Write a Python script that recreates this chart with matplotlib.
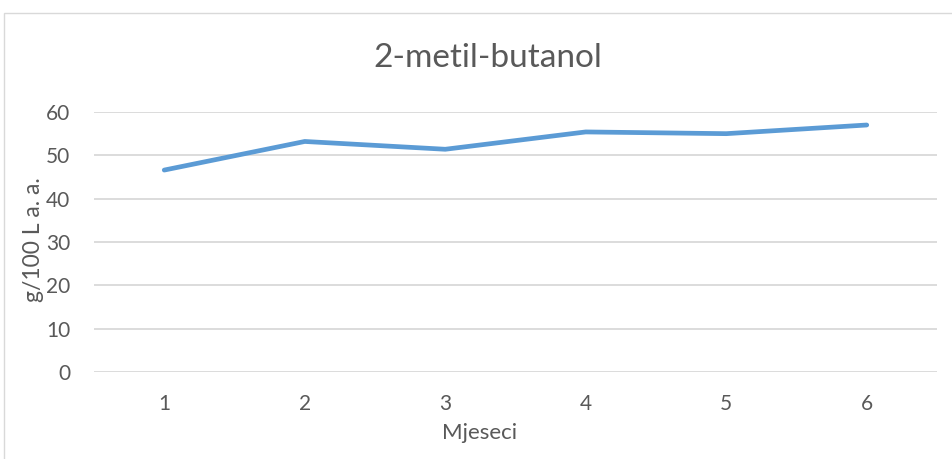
import matplotlib.pyplot as plt
from matplotlib.patches import Rectangle

months = [1, 2, 3, 4, 5, 6]
values = [46.6, 53.2, 51.4, 55.4, 55.0, 57.0]
yticks = [0, 10, 20, 30, 40, 50, 60]

plt.rcParams['font.family'] = ['Lato', 'DejaVu Sans']
txt = '#595959'
W, H = 952, 459

fig = plt.figure(figsize=(9.52, 4.59), dpi=100)
# chart border
fig.patches.append(Rectangle((4 / W, -0.1), 1.1, 1 - 13 / H + 0.1,
                             transform=fig.transFigure, fill=False,
                             edgecolor='#d9d9d9', linewidth=1))

ax = fig.add_axes([94 / W, 1 - 372 / H, (937 - 94) / W, (372 - 112) / H])
ax.plot(months, values, color='#5b9bd5', linewidth=3.4, solid_capstyle='round',
        solid_joinstyle='round', zorder=3)

ax.set_xlim(0.5, 6.5)
ax.set_ylim(0, 60)
ax.set_yticks(yticks)
ax.set_xticks(months)
ax.grid(axis='y', color='#d9d9d9', linewidth=1.3)
ax.set_axisbelow(True)
for s in ax.spines.values():
    s.set_visible(False)
ax.tick_params(length=0, labelsize=15, colors=txt)
ax.tick_params(axis='y', pad=17)
ax.tick_params(axis='x', pad=16)

fig.text(480 / W, 1 - 433 / H, 'Mjeseci', fontsize=16, color=txt,
         ha='center', va='center')
fig.text(33 / W, 1 - 240 / H, 'g/100 L a. a.', fontsize=16.5, color=txt,
         ha='center', va='center', rotation=90)
fig.text(488 / W, 1 - 58 / H, '2-metil-butanol', fontsize=24, color=txt,
         ha='center', va='center')

fig.savefig('out.png', dpi=100)
